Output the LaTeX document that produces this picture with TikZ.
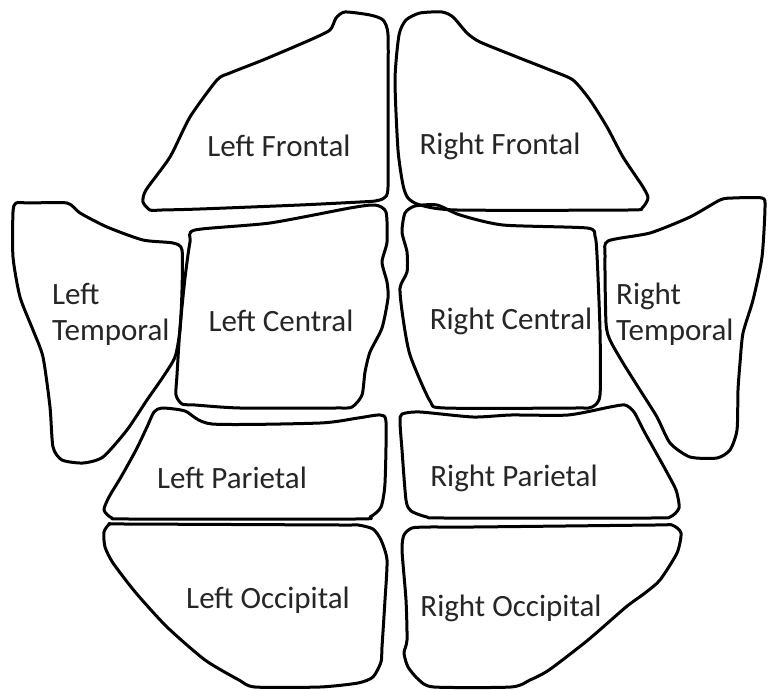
\documentclass[tikz,border=0pt]{standalone}
\usepackage{fontspec}
\setmainfont{Carlito}
\begin{document}
\begin{tikzpicture}[x=1pt,y=-1pt,
  lobe/.style={draw=black,line width=3pt,line join=round},
  lbl/.style={font=\fontsize{31}{36}\selectfont,inner sep=0pt,text=black!85}]
\useasboundingbox[fill=white] (0,0) rectangle (768,690);
% Left Frontal
\draw[lobe] plot[smooth cycle,tension=0.4] coordinates {(345,12) (370,15) (383,20) (388,35) (388,100) (388,187) (384,198) (375,201) (360,202) (300,205) (200,209) (162,210) (150,210) (143,202) (146,190) (170,157) (190,117) (217,80) (230,73) (263,60) (310,40) (330,30) (336,18)};
% Right Frontal
\draw[lobe] plot[smooth cycle,tension=0.4] coordinates {(406,20) (420,13) (442,12) (453,17) (467,33) (480,42) (517,57) (550,70) (573,80) (590,100) (607,127) (623,157) (643,187) (648,198) (642,208) (628,210) (457,210) (420,205) (408,198) (403,185) (398,150) (395,80) (399,35)};
% Left Temporal
\draw[lobe] plot[smooth cycle,tension=0.4] coordinates {(16,203) (30,203) (67,203) (80,213) (107,227) (143,240) (173,243) (182,250) (182,290) (180,330) (175,357) (163,377) (147,400) (127,430) (103,457) (83,463) (62,460) (53,447) (50,407) (43,357) (33,330) (20,297) (13,257) (13,212)};
% Right Temporal
\draw[lobe] plot[smooth cycle,tension=0.4] coordinates {(608,241) (650,233) (690,217) (720,200) (733,198) (762,198) (765,207) (762,257) (753,300) (743,333) (740,363) (738,390) (737,430) (730,450) (717,458) (690,457) (670,443) (657,417) (640,390) (623,363) (610,340) (606,323) (605,257)};
% Left Central
\draw[lobe] plot[smooth cycle,tension=0.4] coordinates {(195,230) (270,223) (350,208) (375,205) (386,212) (387,242) (382,262) (387,282) (388,298) (382,328) (370,352) (365,372) (362,395) (352,407) (335,408) (240,408) (195,405) (182,404) (176,395) (177,375) (180,328) (185,278) (190,242)};
% Right Central
\draw[lobe] plot[smooth cycle,tension=0.4] coordinates {(405,213) (415,206) (437,205) (460,215) (503,225) (587,228) (595,236) (597,255) (600,330) (600,395) (592,407) (575,408) (445,408) (430,401) (410,355) (403,318) (400,288) (407,272) (407,252) (402,232)};
% Left Parietal
\draw[lobe] plot[smooth cycle,tension=0.4] coordinates {(162,408) (185,411) (212,424) (320,423) (358,418) (380,415) (386,422) (385,483) (381,507) (370,517) (355,519) (130,519) (112,518) (104,510) (109,497) (121,477) (136,450) (147,427) (154,412)};
% Right Parietal
\draw[lobe] plot[smooth cycle,tension=0.4] coordinates {(402,414) (420,412) (473,417) (511,415) (568,415) (610,407) (625,405) (634,412) (645,433) (664,467) (676,490) (679,508) (670,517) (650,518) (445,518) (427,517) (411,511) (406,500) (402,450) (400,422)};
% Left Occipital
\draw[lobe] plot[smooth cycle,tension=0.4] coordinates {(110,524) (125,524) (340,525) (358,525) (373,529) (381,540) (387,560) (385,600) (382,647) (381,662) (373,677) (358,683) (320,687) (255,687) (239,680) (205,660) (167,627) (136,593) (113,563) (105,547) (104,532)};
% Right Occipital
\draw[lobe] plot[smooth cycle,tension=0.4] coordinates {(412,528) (430,527) (473,527) (655,525) (672,525) (681,533) (677,553) (660,580) (645,593) (626,607) (588,640) (549,670) (530,680) (511,687) (434,687) (419,680) (408,667) (404,653) (407,640) (406,600) (402,550) (404,535)};
% Labels
\node[lbl] (lf) at (279,146) {Left Frontal};
\node[lbl] (rf) at (500,146) {Right Frontal};
\node[lbl,align=left,anchor=west] (lt) at (52,314) {Left\\Temporal};
\node[lbl,align=left,anchor=west] (rt) at (616,314) {Right\\Temporal};
\node[lbl] (lc) at (281,321) {Left Central};
\node[lbl] (rc) at (511,321) {Right Central};
\node[lbl] (lp) at (232,478) {Left Parietal};
\node[lbl] (rp) at (514,478) {Right Parietal};
\node[lbl] (lo) at (268,600) {Left Occipital};
\node[lbl] (ro) at (511,608) {Right Occipital};
\end{tikzpicture}
\end{document}
